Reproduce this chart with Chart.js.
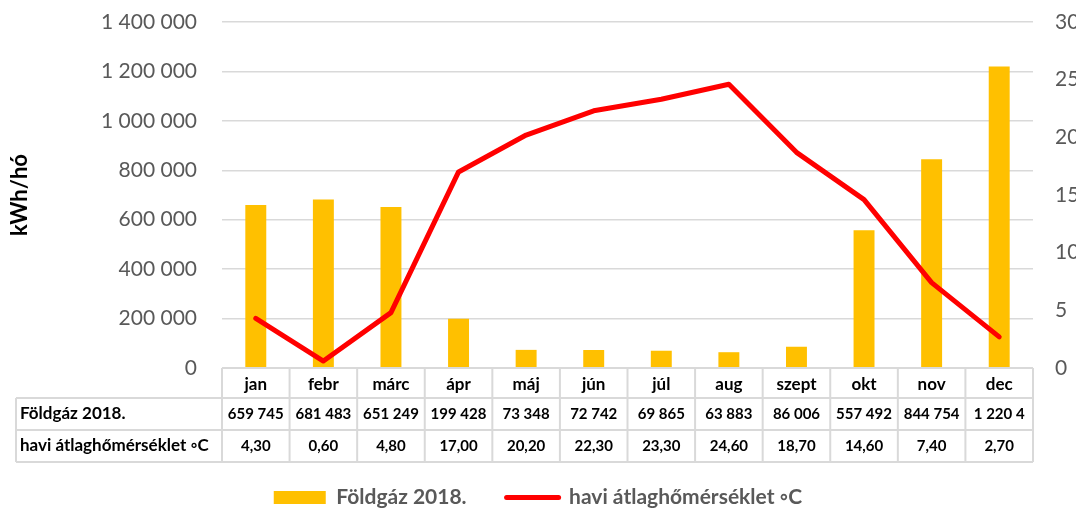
<!DOCTYPE html>
<html>
<head>
<meta charset="utf-8">
<script src="https://cdn.jsdelivr.net/npm/chart.js@4.4.0/dist/chart.umd.min.js"></script>
<style>
html, body { margin: 0; padding: 0; overflow: hidden; background: #fff; }
</style>
</head>
<body>
<canvas id="grafico_gaz" width="1090" height="518"></canvas>
<script>
// ----------------------- adatok --------------------------------------------//

var honapok = ['jan', 'febr', 'márc', 'ápr', 'máj', 'jún', 'júl', 'aug', 'szept', 'okt', 'nov', 'dec'];
var foldgaz = [659745, 681483, 651249, 199428, 73348, 72742, 69865, 63883, 86006, 557492, 844754, 1220400];
var homerseklet = [4.30, 0.60, 4.80, 17.00, 20.20, 22.30, 23.30, 24.60, 18.70, 14.60, 7.40, 2.70];
var nevek = ['Földgáz 2018.', 'havi átlaghőmérséklet ◦C'];

var betu = 'Lato, "DejaVu Sans", sans-serif';

function ezres(v) {
    return String(Math.round(v)).replace(/\B(?=(\d{3})+(?!\d))/g, ' ');
}
function tized(v) {
    return v.toFixed(2).replace('.', ',');
}

// ----------------------- tábla a tengely alatt ------------------------------//

var tabla = {
    id: 'tabla',
    afterDraw: function (chart) {
        var ctx = chart.ctx;
        var a = chart.chartArea;
        var xs = chart.scales.x;
        var w = (a.right - a.left) / honapok.length;
        var y0 = a.bottom, y1 = y0 + 30, y2 = y1 + 32, y3 = y2 + 32;
        var bal = 16;

        ctx.save();
        ctx.strokeStyle = '#d9d9d9';
        ctx.lineWidth = 2;
        ctx.beginPath();
        ctx.moveTo(a.left, y0); ctx.lineTo(a.right, y0);
        [y1, y2, y3].forEach(function (y) {
            ctx.moveTo(bal, y); ctx.lineTo(a.right, y);
        });
        ctx.moveTo(bal, y1); ctx.lineTo(bal, y3);
        for (var i = 0; i <= honapok.length; i++) {
            var x = a.left + i * w;
            ctx.moveTo(x, y0); ctx.lineTo(x, y3);
        }
        ctx.stroke();

        ctx.fillStyle = '#000';
        ctx.textBaseline = 'middle';
        ctx.textAlign = 'left';
        ctx.font = 'bold 17px ' + betu;
        ctx.fillText(nevek[0], bal + 4, (y1 + y2) / 2);
        ctx.fillText(nevek[1], bal + 4, (y2 + y3) / 2);

        ctx.textAlign = 'center';
        ctx.font = 'bold 15px ' + betu;
        for (var j = 0; j < honapok.length; j++) {
            var cx = xs.getPixelForValue(j);
            var s = ezres(foldgaz[j]);
            while (ctx.measureText(s).width > w - 11) s = s.slice(0, -1).trim();
            ctx.fillText(s, cx, (y1 + y2) / 2);
            ctx.fillText(tized(homerseklet[j]), cx, (y2 + y3) / 2);
        }
        ctx.restore();
    }
};

// ----------------------- grafikon --------------------------------------------//

var ctx = document.getElementById('grafico_gaz').getContext('2d');
var grafico_gaz = new Chart(ctx, {
    type: 'bar',
    data: {
        labels: honapok,
        datasets: [{
            type: 'bar',
            label: nevek[0],
            data: foldgaz,
            backgroundColor: '#FFC000',
            barPercentage: 0.31,
            categoryPercentage: 1.0,
            yAxisID: 'y',
            order: 1
        }, {
            type: 'line',
            label: nevek[1],
            data: homerseklet,
            borderColor: '#FF0000',
            backgroundColor: '#FF0000',
            borderWidth: 5,
            borderJoinStyle: 'round',
            borderCapStyle: 'round',
            pointRadius: 0,
            tension: 0,
            yAxisID: 'y1',
            order: 0
        }]
    },
    options: {
        responsive: false,
        animation: false,
        devicePixelRatio: 1,
        layout: { padding: { top: 22, left: 0, right: 14, bottom: 0 } },
        plugins: {
            tooltip: { enabled: false },
            legend: {
                position: 'bottom',
                labels: {
                    usePointStyle: true,
                    pointStyleWidth: 52,
                    boxHeight: 13,
                    padding: 40,
                    color: '#595959',
                    font: { family: betu, size: 21, weight: 'bold' },
                    generateLabels: function (chart) {
                        return [{
                            text: nevek[0], fillStyle: '#FFC000', strokeStyle: '#FFC000',
                            lineWidth: 0, pointStyle: 'rect', datasetIndex: 0, fontColor: '#595959'
                        }, {
                            text: nevek[1], fillStyle: '#FF0000', strokeStyle: '#FF0000',
                            lineWidth: 5, lineCap: 'round', pointStyle: 'line', datasetIndex: 1, fontColor: '#595959'
                        }];
                    }
                }
            }
        },
        scales: {
            x: {
                grid: { display: false, drawTicks: false },
                border: { display: false },
                ticks: { color: '#000', padding: 6, font: { family: betu, size: 17, weight: 'bold' } },
                afterFit: function (s) { s.height = 79; }
            },
            y: {
                position: 'left',
                min: 0,
                max: 1400000,
                ticks: {
                    stepSize: 200000,
                    padding: 0,
                    color: '#595959',
                    font: { family: betu, size: 21 },
                    callback: function (v) { return ezres(v); }
                },
                grid: { color: '#d9d9d9', lineWidth: 1.5, drawTicks: true, tickLength: 25, tickColor: 'rgba(0,0,0,0)' },
                border: { display: false },
                title: {
                    display: true,
                    text: 'kWh/hó',
                    color: '#000',
                    font: { family: betu, size: 22, weight: 'bold' },
                    padding: { top: 7, bottom: 0 }
                },
                afterFit: function (s) { s.width = 222; }
            },
            y1: {
                position: 'right',
                min: 0,
                max: 30,
                ticks: {
                    stepSize: 5,
                    padding: 0,
                    color: '#595959',
                    font: { family: betu, size: 21 }
                },
                grid: { drawOnChartArea: false, drawTicks: true, tickLength: 22, tickColor: 'rgba(0,0,0,0)' },
                border: { display: false },
                afterFit: function (s) { s.width = 43; }
            }
        }
    },
    plugins: [tabla]
});
</script>
</body>
</html>
